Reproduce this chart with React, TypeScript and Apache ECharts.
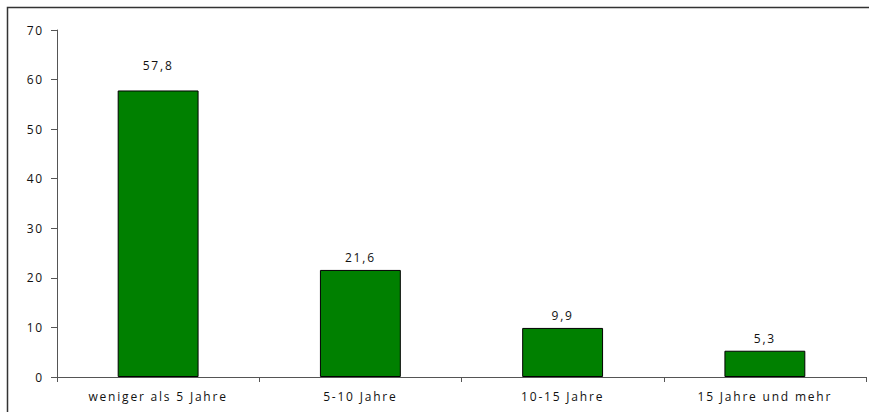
import React, { useEffect, useRef } from "react";
import * as echarts from "echarts";

const categories = ["weniger als 5 Jahre", "5-10 Jahre", "10-15 Jahre", "15 Jahre und mehr"];
const values = [57.8, 21.6, 9.9, 5.3];
const labelDistances = [19, 6, 6, 6];

const FONT = "Open Sans";

export default function App() {
  const ref = useRef<HTMLDivElement>(null);
  useEffect(() => {
    if (!ref.current) return;
    const chart = echarts.init(ref.current, null, { renderer: "svg" });
    chart.setOption({
      animation: false,
      grid: { left: 57, right: 3, top: 30, bottom: 35, containLabel: false },
      graphic: [
        {
          type: "rect",
          shape: { x: 7.5, y: 7.5, width: 900, height: 500 },
          style: { fill: "none", stroke: "#333", lineWidth: 1.5 },
          silent: true,
        },
      ],
      xAxis: {
        type: "category",
        data: categories,
        axisLine: { lineStyle: { color: "#555", width: 1 } },
        axisTick: { show: true, length: 5, inside: false, lineStyle: { color: "#555" } },
        axisLabel: { color: "#111", fontFamily: FONT, fontSize: 12, margin: 13 },
      },
      yAxis: {
        type: "value",
        min: 0,
        max: 70,
        interval: 10,
        splitLine: { show: false },
        axisLine: { show: true, lineStyle: { color: "#555", width: 1 } },
        axisTick: { show: true, length: 6, lineStyle: { color: "#555" } },
        axisLabel: { color: "#111", fontFamily: FONT, fontSize: 12, margin: 13 },
      },
      series: [
        {
          type: "bar",
          barWidth: "40%",
          data: values.map((v, i) => ({
            value: v,
            label: { distance: labelDistances[i] },
          })),
          itemStyle: { color: "#008000", borderColor: "#000", borderWidth: 1 },
          label: {
            show: true,
            position: "top",
            color: "#111",
            fontFamily: FONT,
            fontSize: 12,
            formatter: (p: any) => String(p.value).replace(".", ","),
          },
        },
      ],
    });
    return () => chart.dispose();
  }, []);
  return (
    <>
      <style>{`.xlchart svg text { letter-spacing: 1.8px; }`}</style>
      <div
        ref={ref}
        className="xlchart"
        style={{ width: 869, height: 412, position: "absolute", left: 0, top: 0 }}
      />
    </>
  );
}
